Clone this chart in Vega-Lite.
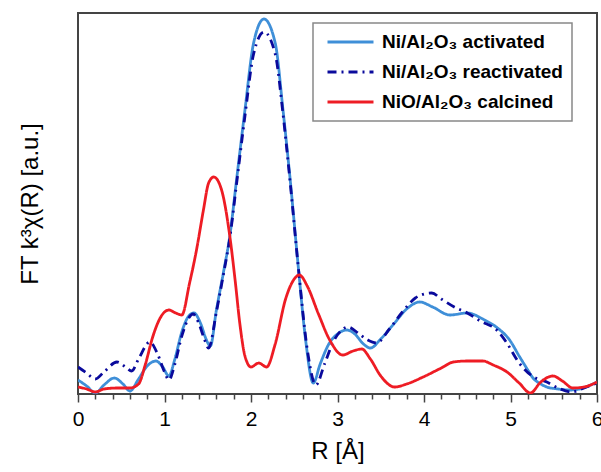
{
  "$schema": "https://vega.github.io/schema/vega-lite/v6.json",
  "width": 519,
  "height": 381,
  "autosize": {"type": "none"},
  "padding": {"left": 78, "top": 13, "right": 4, "bottom": 78},
  "background": "white",
  "config": {
    "font": "Liberation Sans",
    "view": {"stroke": "#444444", "strokeWidth": 2},
    "legend": {
      "orient": "none",
      "legendX": 235,
      "legendY": 10,
      "title": null,
      "fillColor": "white",
      "strokeColor": "#888888",
      "strokeWidth": 1.5,
      "padding": 9,
      "clipHeight": 20,
      "symbolType": "stroke",
      "symbolSize": 2116,
      "symbolStrokeWidth": 3,
      "symbolOffset": 4,
      "labelFont": "Liberation Sans",
      "labelFontSize": 19,
      "labelFontWeight": "bold",
      "labelColor": "black",
      "labelLimit": 400,
      "rowPadding": 10,
      "labelOffset": 7,
      "labelExpr": "datum.label + '\u00a0\u00a0\u00a0\u00a0'"
    }
  },
  "data": {
    "values": [
      {"s": "Ni/Al₂O₃ activated", "R": 0, "v": 14},
      {"s": "Ni/Al₂O₃ activated", "R": 0.1, "v": 8},
      {"s": "Ni/Al₂O₃ activated", "R": 0.2, "v": 1},
      {"s": "Ni/Al₂O₃ activated", "R": 0.3, "v": 9},
      {"s": "Ni/Al₂O₃ activated", "R": 0.42, "v": 16},
      {"s": "Ni/Al₂O₃ activated", "R": 0.52, "v": 10},
      {"s": "Ni/Al₂O₃ activated", "R": 0.6, "v": 3},
      {"s": "Ni/Al₂O₃ activated", "R": 0.7, "v": 15},
      {"s": "Ni/Al₂O₃ activated", "R": 0.8, "v": 28},
      {"s": "Ni/Al₂O₃ activated", "R": 0.9, "v": 33},
      {"s": "Ni/Al₂O₃ activated", "R": 0.98, "v": 27},
      {"s": "Ni/Al₂O₃ activated", "R": 1.05, "v": 18},
      {"s": "Ni/Al₂O₃ activated", "R": 1.12, "v": 35},
      {"s": "Ni/Al₂O₃ activated", "R": 1.2, "v": 62},
      {"s": "Ni/Al₂O₃ activated", "R": 1.28, "v": 78},
      {"s": "Ni/Al₂O₃ activated", "R": 1.34, "v": 81},
      {"s": "Ni/Al₂O₃ activated", "R": 1.42, "v": 70},
      {"s": "Ni/Al₂O₃ activated", "R": 1.48, "v": 55},
      {"s": "Ni/Al₂O₃ activated", "R": 1.53, "v": 48},
      {"s": "Ni/Al₂O₃ activated", "R": 1.6, "v": 84},
      {"s": "Ni/Al₂O₃ activated", "R": 1.68, "v": 121},
      {"s": "Ni/Al₂O₃ activated", "R": 1.76, "v": 161},
      {"s": "Ni/Al₂O₃ activated", "R": 1.83, "v": 212},
      {"s": "Ni/Al₂O₃ activated", "R": 1.93, "v": 284},
      {"s": "Ni/Al₂O₃ activated", "R": 2.03, "v": 351},
      {"s": "Ni/Al₂O₃ activated", "R": 2.15, "v": 375},
      {"s": "Ni/Al₂O₃ activated", "R": 2.28, "v": 351},
      {"s": "Ni/Al₂O₃ activated", "R": 2.37, "v": 284},
      {"s": "Ni/Al₂O₃ activated", "R": 2.45, "v": 217},
      {"s": "Ni/Al₂O₃ activated", "R": 2.55, "v": 124},
      {"s": "Ni/Al₂O₃ activated", "R": 2.63, "v": 55},
      {"s": "Ni/Al₂O₃ activated", "R": 2.72, "v": 11},
      {"s": "Ni/Al₂O₃ activated", "R": 2.8, "v": 30},
      {"s": "Ni/Al₂O₃ activated", "R": 2.9, "v": 50},
      {"s": "Ni/Al₂O₃ activated", "R": 3.0, "v": 60},
      {"s": "Ni/Al₂O₃ activated", "R": 3.11, "v": 64},
      {"s": "Ni/Al₂O₃ activated", "R": 3.2, "v": 60},
      {"s": "Ni/Al₂O₃ activated", "R": 3.3, "v": 50},
      {"s": "Ni/Al₂O₃ activated", "R": 3.38, "v": 46},
      {"s": "Ni/Al₂O₃ activated", "R": 3.5, "v": 55},
      {"s": "Ni/Al₂O₃ activated", "R": 3.65, "v": 70},
      {"s": "Ni/Al₂O₃ activated", "R": 3.8, "v": 85},
      {"s": "Ni/Al₂O₃ activated", "R": 3.95, "v": 92},
      {"s": "Ni/Al₂O₃ activated", "R": 4.1, "v": 87},
      {"s": "Ni/Al₂O₃ activated", "R": 4.3, "v": 79},
      {"s": "Ni/Al₂O₃ activated", "R": 4.5, "v": 81},
      {"s": "Ni/Al₂O₃ activated", "R": 4.7, "v": 74},
      {"s": "Ni/Al₂O₃ activated", "R": 4.85, "v": 66},
      {"s": "Ni/Al₂O₃ activated", "R": 4.99, "v": 54},
      {"s": "Ni/Al₂O₃ activated", "R": 5.1, "v": 38},
      {"s": "Ni/Al₂O₃ activated", "R": 5.2, "v": 24},
      {"s": "Ni/Al₂O₃ activated", "R": 5.26, "v": 16},
      {"s": "Ni/Al₂O₃ activated", "R": 5.35, "v": 10},
      {"s": "Ni/Al₂O₃ activated", "R": 5.42, "v": 7},
      {"s": "Ni/Al₂O₃ activated", "R": 5.55, "v": 5},
      {"s": "Ni/Al₂O₃ activated", "R": 5.69, "v": 4},
      {"s": "Ni/Al₂O₃ activated", "R": 5.8, "v": 5},
      {"s": "Ni/Al₂O₃ activated", "R": 5.9, "v": 8},
      {"s": "Ni/Al₂O₃ activated", "R": 6.0, "v": 12},

      {"s": "Ni/Al₂O₃ reactivated", "R": 0, "v": 27},
      {"s": "Ni/Al₂O₃ reactivated", "R": 0.1, "v": 21},
      {"s": "Ni/Al₂O₃ reactivated", "R": 0.2, "v": 15},
      {"s": "Ni/Al₂O₃ reactivated", "R": 0.3, "v": 22},
      {"s": "Ni/Al₂O₃ reactivated", "R": 0.45, "v": 32},
      {"s": "Ni/Al₂O₃ reactivated", "R": 0.55, "v": 27},
      {"s": "Ni/Al₂O₃ reactivated", "R": 0.62, "v": 23},
      {"s": "Ni/Al₂O₃ reactivated", "R": 0.7, "v": 35},
      {"s": "Ni/Al₂O₃ reactivated", "R": 0.83, "v": 52},
      {"s": "Ni/Al₂O₃ reactivated", "R": 0.92, "v": 40},
      {"s": "Ni/Al₂O₃ reactivated", "R": 1.0, "v": 22},
      {"s": "Ni/Al₂O₃ reactivated", "R": 1.05, "v": 14},
      {"s": "Ni/Al₂O₃ reactivated", "R": 1.12, "v": 30},
      {"s": "Ni/Al₂O₃ reactivated", "R": 1.2, "v": 58},
      {"s": "Ni/Al₂O₃ reactivated", "R": 1.28, "v": 76},
      {"s": "Ni/Al₂O₃ reactivated", "R": 1.33, "v": 80},
      {"s": "Ni/Al₂O₃ reactivated", "R": 1.4, "v": 70},
      {"s": "Ni/Al₂O₃ reactivated", "R": 1.46, "v": 55},
      {"s": "Ni/Al₂O₃ reactivated", "R": 1.51, "v": 46},
      {"s": "Ni/Al₂O₃ reactivated", "R": 1.6, "v": 82},
      {"s": "Ni/Al₂O₃ reactivated", "R": 1.68, "v": 119},
      {"s": "Ni/Al₂O₃ reactivated", "R": 1.76, "v": 159},
      {"s": "Ni/Al₂O₃ reactivated", "R": 1.83, "v": 208},
      {"s": "Ni/Al₂O₃ reactivated", "R": 1.93, "v": 278},
      {"s": "Ni/Al₂O₃ reactivated", "R": 2.03, "v": 340},
      {"s": "Ni/Al₂O₃ reactivated", "R": 2.15, "v": 362},
      {"s": "Ni/Al₂O₃ reactivated", "R": 2.28, "v": 340},
      {"s": "Ni/Al₂O₃ reactivated", "R": 2.37, "v": 280},
      {"s": "Ni/Al₂O₃ reactivated", "R": 2.45, "v": 214},
      {"s": "Ni/Al₂O₃ reactivated", "R": 2.55, "v": 124},
      {"s": "Ni/Al₂O₃ reactivated", "R": 2.65, "v": 45},
      {"s": "Ni/Al₂O₃ reactivated", "R": 2.75, "v": 9},
      {"s": "Ni/Al₂O₃ reactivated", "R": 2.85, "v": 30},
      {"s": "Ni/Al₂O₃ reactivated", "R": 2.95, "v": 52},
      {"s": "Ni/Al₂O₃ reactivated", "R": 3.05, "v": 64},
      {"s": "Ni/Al₂O₃ reactivated", "R": 3.12, "v": 67},
      {"s": "Ni/Al₂O₃ reactivated", "R": 3.25, "v": 60},
      {"s": "Ni/Al₂O₃ reactivated", "R": 3.35, "v": 54},
      {"s": "Ni/Al₂O₃ reactivated", "R": 3.45, "v": 51},
      {"s": "Ni/Al₂O₃ reactivated", "R": 3.6, "v": 65},
      {"s": "Ni/Al₂O₃ reactivated", "R": 3.75, "v": 82},
      {"s": "Ni/Al₂O₃ reactivated", "R": 3.9, "v": 96},
      {"s": "Ni/Al₂O₃ reactivated", "R": 4.0, "v": 100},
      {"s": "Ni/Al₂O₃ reactivated", "R": 4.09, "v": 101},
      {"s": "Ni/Al₂O₃ reactivated", "R": 4.2, "v": 95},
      {"s": "Ni/Al₂O₃ reactivated", "R": 4.35, "v": 87},
      {"s": "Ni/Al₂O₃ reactivated", "R": 4.5, "v": 81},
      {"s": "Ni/Al₂O₃ reactivated", "R": 4.65, "v": 73},
      {"s": "Ni/Al₂O₃ reactivated", "R": 4.84, "v": 64},
      {"s": "Ni/Al₂O₃ reactivated", "R": 4.95, "v": 52},
      {"s": "Ni/Al₂O₃ reactivated", "R": 5.1, "v": 31},
      {"s": "Ni/Al₂O₃ reactivated", "R": 5.25, "v": 18},
      {"s": "Ni/Al₂O₃ reactivated", "R": 5.42, "v": 12},
      {"s": "Ni/Al₂O₃ reactivated", "R": 5.55, "v": 6},
      {"s": "Ni/Al₂O₃ reactivated", "R": 5.71, "v": 2},
      {"s": "Ni/Al₂O₃ reactivated", "R": 5.85, "v": 6},
      {"s": "Ni/Al₂O₃ reactivated", "R": 6.0, "v": 11},

      {"s": "NiO/Al₂O₃ calcined", "R": 0, "v": 7},
      {"s": "NiO/Al₂O₃ calcined", "R": 0.1, "v": 5},
      {"s": "NiO/Al₂O₃ calcined", "R": 0.2, "v": 2},
      {"s": "NiO/Al₂O₃ calcined", "R": 0.3, "v": 5},
      {"s": "NiO/Al₂O₃ calcined", "R": 0.45, "v": 6},
      {"s": "NiO/Al₂O₃ calcined", "R": 0.6, "v": 6},
      {"s": "NiO/Al₂O₃ calcined", "R": 0.7, "v": 10},
      {"s": "NiO/Al₂O₃ calcined", "R": 0.78, "v": 30},
      {"s": "NiO/Al₂O₃ calcined", "R": 0.86, "v": 56},
      {"s": "NiO/Al₂O₃ calcined", "R": 0.95, "v": 76},
      {"s": "NiO/Al₂O₃ calcined", "R": 1.05, "v": 84},
      {"s": "NiO/Al₂O₃ calcined", "R": 1.13, "v": 81},
      {"s": "NiO/Al₂O₃ calcined", "R": 1.2, "v": 79},
      {"s": "NiO/Al₂O₃ calcined", "R": 1.29, "v": 111},
      {"s": "NiO/Al₂O₃ calcined", "R": 1.37, "v": 144},
      {"s": "NiO/Al₂O₃ calcined", "R": 1.45, "v": 184},
      {"s": "NiO/Al₂O₃ calcined", "R": 1.51, "v": 211},
      {"s": "NiO/Al₂O₃ calcined", "R": 1.57, "v": 217},
      {"s": "NiO/Al₂O₃ calcined", "R": 1.66, "v": 204},
      {"s": "NiO/Al₂O₃ calcined", "R": 1.75, "v": 161},
      {"s": "NiO/Al₂O₃ calcined", "R": 1.82, "v": 111},
      {"s": "NiO/Al₂O₃ calcined", "R": 1.87, "v": 71},
      {"s": "NiO/Al₂O₃ calcined", "R": 1.93, "v": 38},
      {"s": "NiO/Al₂O₃ calcined", "R": 2.0, "v": 27},
      {"s": "NiO/Al₂O₃ calcined", "R": 2.09, "v": 31},
      {"s": "NiO/Al₂O₃ calcined", "R": 2.18, "v": 27},
      {"s": "NiO/Al₂O₃ calcined", "R": 2.28, "v": 50},
      {"s": "NiO/Al₂O₃ calcined", "R": 2.4, "v": 95},
      {"s": "NiO/Al₂O₃ calcined", "R": 2.5, "v": 115},
      {"s": "NiO/Al₂O₃ calcined", "R": 2.56, "v": 119},
      {"s": "NiO/Al₂O₃ calcined", "R": 2.65, "v": 108},
      {"s": "NiO/Al₂O₃ calcined", "R": 2.78, "v": 80},
      {"s": "NiO/Al₂O₃ calcined", "R": 2.91, "v": 54},
      {"s": "NiO/Al₂O₃ calcined", "R": 3.06, "v": 39},
      {"s": "NiO/Al₂O₃ calcined", "R": 3.18, "v": 43},
      {"s": "NiO/Al₂O₃ calcined", "R": 3.28, "v": 45},
      {"s": "NiO/Al₂O₃ calcined", "R": 3.38, "v": 35},
      {"s": "NiO/Al₂O₃ calcined", "R": 3.5, "v": 18},
      {"s": "NiO/Al₂O₃ calcined", "R": 3.66, "v": 7},
      {"s": "NiO/Al₂O₃ calcined", "R": 3.8, "v": 10},
      {"s": "NiO/Al₂O₃ calcined", "R": 3.99, "v": 17},
      {"s": "NiO/Al₂O₃ calcined", "R": 4.2, "v": 26},
      {"s": "NiO/Al₂O₃ calcined", "R": 4.34, "v": 32},
      {"s": "NiO/Al₂O₃ calcined", "R": 4.5, "v": 33},
      {"s": "NiO/Al₂O₃ calcined", "R": 4.68, "v": 33},
      {"s": "NiO/Al₂O₃ calcined", "R": 4.8, "v": 29},
      {"s": "NiO/Al₂O₃ calcined", "R": 4.96, "v": 22},
      {"s": "NiO/Al₂O₃ calcined", "R": 5.1, "v": 11},
      {"s": "NiO/Al₂O₃ calcined", "R": 5.23, "v": 1},
      {"s": "NiO/Al₂O₃ calcined", "R": 5.35, "v": 12},
      {"s": "NiO/Al₂O₃ calcined", "R": 5.49, "v": 18},
      {"s": "NiO/Al₂O₃ calcined", "R": 5.6, "v": 13},
      {"s": "NiO/Al₂O₃ calcined", "R": 5.72, "v": 6},
      {"s": "NiO/Al₂O₃ calcined", "R": 5.85, "v": 7},
      {"s": "NiO/Al₂O₃ calcined", "R": 6.0, "v": 12}
    ]
  },
  "mark": {"type": "line", "interpolate": "monotone", "strokeWidth": 2.8, "clip": true},
  "encoding": {
    "x": {
      "field": "R",
      "type": "quantitative",
      "scale": {"domain": [0, 6], "nice": false, "zero": false},
      "axis": {
        "title": "R [Å]",
        "titleFont": "Liberation Sans",
        "titleFontSize": 24,
        "titleFontWeight": "normal",
        "titleColor": "black",
        "titlePadding": 10,
        "values": [0, 0.2, 0.4, 0.6, 0.8, 1, 1.2, 1.4, 1.6, 1.8, 2, 2.2, 2.4, 2.6, 2.8, 3, 3.2, 3.4, 3.6, 3.8, 4, 4.2, 4.4, 4.6, 4.8, 5, 5.2, 5.4, 5.6, 5.8, 6],
        "labelExpr": "abs(datum.value - round(datum.value)) < 0.01 ? format(datum.value, 'd') : ''",
        "labelFont": "Liberation Sans",
        "labelFontSize": 21,
        "labelColor": "black",
        "labelPadding": 6,
        "labelFlush": false,
        "labelOverlap": false,
        "grid": false,
        "domain": false,
        "tickColor": "#444444",
        "tickWidth": 1.5,
        "tickSize": {"condition": {"test": "abs(datum.value - round(datum.value)) < 0.01", "value": 8}, "value": 5}
      }
    },
    "y": {
      "field": "v",
      "type": "quantitative",
      "scale": {"domain": [0, 381], "nice": false},
      "axis": {
        "title": "FT k³χ(R) [a.u.]",
        "titleFont": "Liberation Sans",
        "titleFontSize": 24,
        "titleFontWeight": "normal",
        "titleColor": "black",
        "titlePadding": 36,
        "labels": false,
        "ticks": false,
        "grid": false,
        "domain": false
      }
    },
    "color": {
      "field": "s",
      "type": "nominal",
      "sort": ["Ni/Al₂O₃ activated", "Ni/Al₂O₃ reactivated", "NiO/Al₂O₃ calcined"],
      "scale": {"domain": ["Ni/Al₂O₃ activated", "Ni/Al₂O₃ reactivated", "NiO/Al₂O₃ calcined"], "range": ["#3f8fd8", "#0a0a9c", "#ee1c24"]}
    },
    "strokeDash": {
      "field": "s",
      "type": "nominal",
      "sort": ["Ni/Al₂O₃ activated", "Ni/Al₂O₃ reactivated", "NiO/Al₂O₃ calcined"],
      "scale": {"domain": ["Ni/Al₂O₃ activated", "Ni/Al₂O₃ reactivated", "NiO/Al₂O₃ calcined"], "range": [[1, 0], [9, 5, 2, 5], [1, 0]]}
    }
  }
}
